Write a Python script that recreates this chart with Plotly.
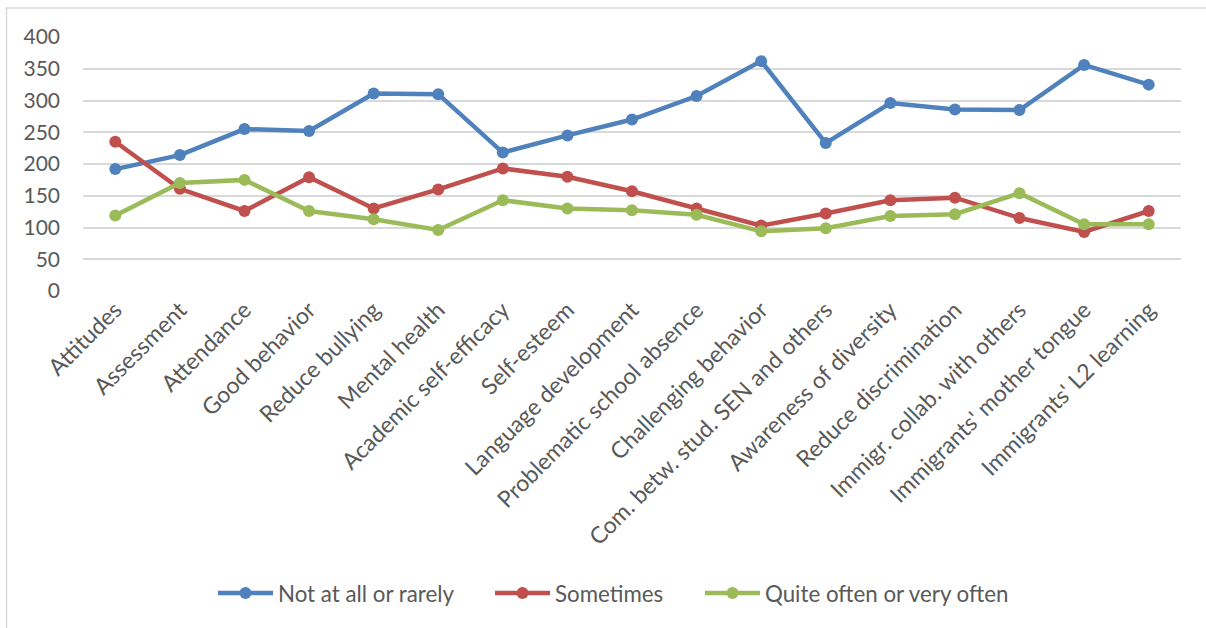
import plotly.graph_objects as go

categories = ["Attitudes", "Assessment", "Attendance", "Good behavior", "Reduce bullying",
              "Mental health", "Academic self-efficacy", "Self-esteem", "Language development",
              "Problematic school absence", "Challenging behavior", "Com. betw. stud. SEN and others",
              "Awareness of diversity", "Reduce discrimination", "Immigr. collab. with others",
              "Immigrants' mother tongue", "Immigrants' L2 learning"]

not_at_all = [192, 214, 255, 252, 311, 310, 218, 245, 270, 307, 362, 233, 296, 286, 285, 356, 325]
sometimes = [235, 161, 126, 179, 130, 160, 193, 180, 157, 130, 103, 122, 143, 147, 115, 93, 126]
quite_often = [119, 170, 175, 126, 113, 96, 143, 130, 127, 120, 94, 99, 118, 121, 154, 105, 105]

series_names = ["Not at all or rarely", "Sometimes", "Quite often or very often"]
series_values = [not_at_all, sometimes, quite_often]
colors = ["#4F81BD", "#C0504D", "#9BBB59"]
legend_ids = ["legend", "legend2", "legend3"]
legend_left_px = [218, 495, 705]

y_ticks = [0, 50, 100, 150, 200, 250, 300, 350, 400]

W, H = 1206, 628
L, R, T, B = 83, 1206 - 1181, 37, 628 - 291
pw = W - L - R
ph = H - T - B

fig = go.Figure()
for name, vals, col, lg in zip(series_names, series_values, colors, legend_ids):
    fig.add_trace(go.Scatter(
        x=categories, y=vals, name=name, mode="lines+markers",
        line=dict(color=col, width=4.5),
        marker=dict(color=col, size=12),
        legend=lg,
    ))

fig.add_shape(type="rect", xref="paper", yref="paper",
              x0=(6.5 - L) / pw, x1=(1260 - L) / pw,
              y0=(H - 700 - B) / ph, y1=(H - 8 - B) / ph,
              line=dict(color="#D9D9D9", width=1.5), layer="below")

legend_common = dict(orientation="h", xanchor="left", y=(H - 593 - B) / ph, yanchor="middle",
                     font=dict(size=22.3, color="#595959"), itemwidth=55,
                     bgcolor="rgba(0,0,0,0)", borderwidth=0)
legends = {}
for lg, px in zip(legend_ids, legend_left_px):
    legends[lg] = dict(legend_common, x=(px - 5 - L) / pw)

fig.update_layout(
    width=W, height=H,
    margin=dict(l=L, r=R, t=T, b=B),
    paper_bgcolor="white", plot_bgcolor="white",
    font=dict(family="Lato", color="#595959", size=21),
    showlegend=True,
    **legends,
    xaxis=dict(type="category", tickangle=-45, showgrid=False, showline=False, zeroline=False,
               ticks="", tickfont=dict(size=23, color="#595959"), range=[-0.5, 16.5]),
    yaxis=dict(range=[0, 400], tickvals=y_ticks, showgrid=True, gridcolor="#D9D9D9", gridwidth=1.5,
               zeroline=False, showline=False, ticks="", ticklabelstandoff=22,
               tickfont=dict(size=21, color="#595959")),
)

fig.write_html("out.html")
